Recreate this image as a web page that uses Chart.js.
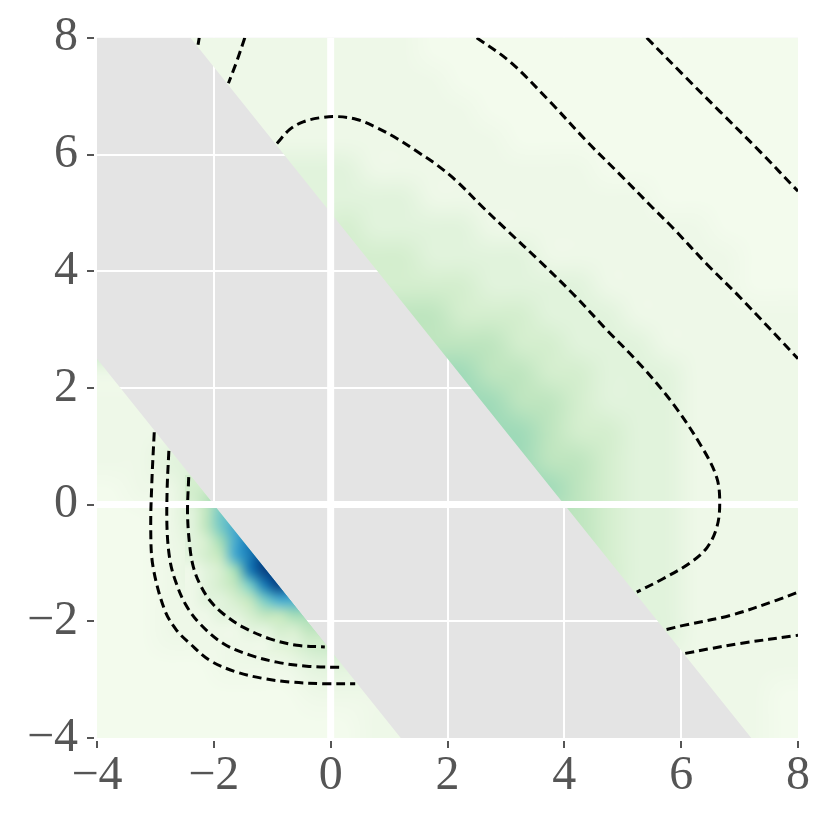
<!DOCTYPE html>
<html>
<head>
<meta charset="utf-8">
<script src="https://cdn.jsdelivr.net/npm/chart.js@4.4.0/dist/chart.umd.min.js"></script>
<style>
  html, body { margin: 0; padding: 0; background: #fff; }
  canvas { display: block; }
</style>
</head>
<body>
<canvas id="chart" width="830" height="819"></canvas>
<script>
// --- axis range and ticks ---
const xLimits = [-4, 8];
const yLimits = [-4, 8];
const tickStep = 2;

// edges of the grey band where the field is undefined
const bandUpperEdge = [{x: -2.4, y: 8}, {x: 7.2, y: -4}];
const bandLowerEdge = [{x: -4, y: 2.5}, {x: 1.2, y: -4}];

// colour level (digit in the grids) -> position on the GnBu colormap
const levelPos = [0.02, 0.05, 0.12, 0.2, 0.3, 0.4, 0.52, 0.66, 0.82, 1.0];
const gnbu = ['#f7fcf0', '#e0f3db', '#ccebc5', '#a8ddb5', '#7bccc4', '#4eb3d3', '#2b8cbe', '#0868ac', '#084081'];

// coarse field, 0.5 x 0.5 cells, rows from y=8 down to y=-4, columns x=-4..8
// '.' = cell inside the grey band
const coarseExtent = {x0: -4, x1: 8, y0: -4, y1: 8};
const coarseGrid = [
  '...111111110000000000000',
  '...111111111000000000000',
  '....11111111100000000000',
  '.....1111111110000000000',
  '......222111111110000000',
  '.......22221111111100000',
  '.......23222211111111000',
  '........3332222111111100',
  '.........333322221111100',
  '..........44333222111111',
  '...........4443322211111',
  '1..........5544332221111',
  '11..........554432221111',
  '111..........55433221111',
  '1122..........5443221111',
  '01133..........543221111',
  '00133..........443221111',
  '001256..........43221111',
  '0012478..........3221111',
  '00112465..........221111',
  '001112344..........21111',
  '000011122..........11111',
  '0000000111..........1110',
  '00000000011..........110'
];

// finer field around the dark blue patch, 0.25 x 0.25 cells
const fineExtent = {x0: -2.5, x1: 0.5, y0: -2.5, y1: 0.5};
const fineGrid = [
  '33..........',
  '345.........',
  '2466........',
  '2467........',
  '23578.......',
  '234789......',
  '1235899.....',
  '12346898....',
  '12234677....',
  '112234455...',
  '1111223344..',
  '11111122333.'
];

// dashed contour lines
const contourA = [
  {x: -0.92, y: 6.19}, {x: -0.70, y: 6.43}, {x: -0.47, y: 6.56}, {x: -0.18, y: 6.63},
  {x: 0.11, y: 6.65}, {x: 0.45, y: 6.60}, {x: 0.79, y: 6.46}, {x: 1.14, y: 6.27},
  {x: 1.48, y: 6.05}, {x: 1.82, y: 5.82}, {x: 2.16, y: 5.54}, {x: 2.60, y: 5.10},
  {x: 3.02, y: 4.70}, {x: 3.58, y: 4.17}, {x: 4.15, y: 3.61}, {x: 4.73, y: 2.99},
  {x: 5.29, y: 2.41}, {x: 5.86, y: 1.73}, {x: 6.37, y: 0.96}, {x: 6.61, y: 0.46},
  {x: 6.66, y: 0.02}, {x: 6.61, y: -0.39}, {x: 6.44, y: -0.74}, {x: 6.15, y: -1.0},
  {x: 5.69, y: -1.27}, {x: 5.24, y: -1.5}
];
const contourB = [
  {x: 2.50, y: 8.0}, {x: 3.07, y: 7.59}, {x: 3.75, y: 6.91}, {x: 4.39, y: 6.22},
  {x: 4.95, y: 5.66}, {x: 5.52, y: 5.08}, {x: 5.86, y: 4.74}, {x: 6.44, y: 4.12},
  {x: 7.01, y: 3.55}, {x: 8.0, y: 2.5}
];
const contourC = [
  {x: 5.41, y: 8.0}, {x: 6.03, y: 7.37}, {x: 6.66, y: 6.74}, {x: 7.35, y: 6.05}, {x: 8.0, y: 5.37}
];
const contourBLow = [
  {x: 5.75, y: -2.14}, {x: 6.04, y: -2.07}, {x: 6.84, y: -1.90}, {x: 7.63, y: -1.64}, {x: 8.0, y: -1.5}
];
const contourCLow = [
  {x: 6.07, y: -2.55}, {x: 6.49, y: -2.47}, {x: 7.01, y: -2.38}, {x: 8.0, y: -2.24}
];
const contourD1 = [{x: -2.25, y: 8.0}, {x: -2.27, y: 7.88}];
const contourD2 = [{x: -1.47, y: 8.0}, {x: -1.61, y: 7.59}, {x: -1.75, y: 7.22}];
const contourE1 = [
  {x: -3.02, y: 1.24}, {x: -3.06, y: 0.41}, {x: -3.08, y: -0.44}, {x: -3.04, y: -1.07},
  {x: -2.84, y: -1.81}, {x: -2.64, y: -2.15}, {x: -2.41, y: -2.38}, {x: -2.07, y: -2.67},
  {x: -1.61, y: -2.87}, {x: -1.15, y: -2.98}, {x: -0.70, y: -3.04}, {x: -0.13, y: -3.07},
  {x: 0.42, y: -3.07}
];
const contourE2 = [
  {x: -2.77, y: 0.92}, {x: -2.80, y: 0.24}, {x: -2.80, y: -0.44}, {x: -2.75, y: -0.96},
  {x: -2.66, y: -1.30}, {x: -2.49, y: -1.70}, {x: -2.24, y: -2.04}, {x: -1.84, y: -2.38},
  {x: -1.38, y: -2.58}, {x: -0.92, y: -2.70}, {x: -0.41, y: -2.77}, {x: 0.19, y: -2.79}
];
const contourE3 = [
  {x: -2.43, y: 0.47}, {x: -2.45, y: -0.16}, {x: -2.41, y: -0.73}, {x: -2.35, y: -1.07},
  {x: -2.24, y: -1.36}, {x: -2.07, y: -1.64}, {x: -1.84, y: -1.87}, {x: -1.50, y: -2.10},
  {x: -1.04, y: -2.30}, {x: -0.58, y: -2.41}, {x: -0.10, y: -2.44}
];
const contours = [contourA, contourB, contourC, contourBLow, contourCLow,
                  contourD1, contourD2, contourE1, contourE2, contourE3];

// --- helpers ---
function hexToRgb(h) {
  const n = parseInt(h.slice(1), 16);
  return [(n >> 16) & 255, (n >> 8) & 255, n & 255];
}
const gnbuRgb = gnbu.map(hexToRgb);

function levelColor(level) {
  const p = levelPos[level];
  const n = gnbuRgb.length - 1;
  const f = p * n;
  const i = Math.min(Math.floor(f), n - 1);
  const t = f - i;
  return gnbuRgb[i].map((c, k) => Math.round(c + (gnbuRgb[i + 1][k] - c) * t));
}

// turn a grid of level digits into a tiny image, one pixel per cell
function gridImage(rows) {
  const h = rows.length, w = rows[0].length;
  const c = document.createElement('canvas');
  c.width = w; c.height = h;
  const g = c.getContext('2d');
  const img = g.createImageData(w, h);
  rows.forEach((row, j) => {
    for (let i = 0; i < w; i++) {
      let ch = row[i];
      if (ch === '.') {
        // hidden under the band anyway, borrow the nearest cell so smoothing has no seam
        for (let k = 1; k < w; k++) {
          if (row[i - k] && row[i - k] !== '.') { ch = row[i - k]; break; }
          if (row[i + k] && row[i + k] !== '.') { ch = row[i + k]; break; }
        }
      }
      const [r, gg, b] = levelColor(+ch);
      const o = (j * w + i) * 4;
      img.data[o] = r; img.data[o + 1] = gg; img.data[o + 2] = b; img.data[o + 3] = 255;
    }
  });
  g.putImageData(img, 0, 0);
  return c;
}

const coarseImg = gridImage(coarseGrid);
const fineImg = gridImage(fineGrid);

// grey panel background (shows through inside the band)
const panelPlugin = {
  id: 'panel',
  beforeDraw(chart) {
    const {ctx, chartArea: a} = chart;
    ctx.save();
    ctx.fillStyle = '#fff';
    ctx.fillRect(0, 0, chart.width, chart.height);
    ctx.fillStyle = '#e4e4e4';
    ctx.fillRect(a.left, a.top, a.right - a.left, a.bottom - a.top);
    ctx.restore();
  }
};

// heat map, clipped to the two regions outside the band
const heatmapPlugin = {
  id: 'heatmap',
  beforeDatasetsDraw(chart) {
    const {ctx, scales: {x, y}} = chart;
    const px = v => x.getPixelForValue(v);
    const py = v => y.getPixelForValue(v);
    ctx.save();
    ctx.beginPath();
    ctx.moveTo(px(bandUpperEdge[0].x), py(bandUpperEdge[0].y));
    ctx.lineTo(px(bandUpperEdge[1].x), py(bandUpperEdge[1].y));
    ctx.lineTo(px(xLimits[1]), py(yLimits[0]));
    ctx.lineTo(px(xLimits[1]), py(yLimits[1]));
    ctx.closePath();
    ctx.moveTo(px(bandLowerEdge[0].x), py(bandLowerEdge[0].y));
    ctx.lineTo(px(bandLowerEdge[1].x), py(bandLowerEdge[1].y));
    ctx.lineTo(px(xLimits[0]), py(yLimits[0]));
    ctx.closePath();
    ctx.clip();
    ctx.imageSmoothingEnabled = true;
    ctx.imageSmoothingQuality = 'high';
    [[coarseImg, coarseExtent], [fineImg, fineExtent]].forEach(([img, e]) => {
      const left = px(e.x0), top = py(e.y1);
      ctx.drawImage(img, left, top, px(e.x1) - left, py(e.y0) - top);
    });
    ctx.restore();
  }
};

const dashed = {
  borderColor: '#000',
  borderWidth: 3,
  borderDash: [9, 5],
  pointRadius: 0,
  tension: 0.35,
  fill: false,
  order: 1
};

const datasets = contours.map(c => Object.assign({}, dashed, {data: c}));
// thick white lines through the origin
datasets.push({data: [{x: 0, y: yLimits[0]}, {x: 0, y: yLimits[1]}],
  borderColor: '#fff', borderWidth: 7, pointRadius: 0, order: 2, clip: 0});
datasets.push({data: [{x: xLimits[0], y: 0}, {x: xLimits[1], y: 0}],
  borderColor: '#fff', borderWidth: 7, pointRadius: 0, order: 2, clip: 0});

const fmt = v => (v < 0 ? '\u2212' + Math.abs(v) : String(v));
const gridColor = c => (c.tick && (c.tick.value === xLimits[0] || c.tick.value === xLimits[1]) ? 'rgba(0,0,0,0)' : '#fff');
const tickFont = {family: "'Liberation Serif', 'DejaVu Serif', serif", size: 48};

new Chart(document.getElementById('chart'), {
  type: 'line',
  data: {datasets: datasets},
  options: {
    responsive: false,
    animation: false,
    devicePixelRatio: 1,
    layout: {padding: {left: 0, right: 32, top: 36, bottom: 0}},
    plugins: {legend: {display: false}, tooltip: {enabled: false}},
    scales: {
      x: {
        type: 'linear',
        min: xLimits[0], max: xLimits[1],
        afterFit: s => { s.height = 81; },
        border: {display: false},
        grid: {color: gridColor, lineWidth: 2, tickColor: '#555', tickWidth: 2, tickLength: 10,
               tickBorderDash: [7, 3], tickBorderDashOffset: 7},
        ticks: {stepSize: tickStep, padding: 0, color: '#555', font: tickFont, callback: fmt, maxRotation: 0}
      },
      y: {
        type: 'linear',
        min: yLimits[0], max: yLimits[1],
        afterFit: s => { s.width = 97; },
        border: {display: false},
        grid: {color: gridColor, lineWidth: 2, tickColor: '#555', tickWidth: 2, tickLength: 10,
               tickBorderDash: [7, 3]},
        ticks: {stepSize: tickStep, padding: 9, color: '#555', font: tickFont, callback: fmt}
      }
    }
  },
  plugins: [panelPlugin, heatmapPlugin]
});
</script>
</body>
</html>
